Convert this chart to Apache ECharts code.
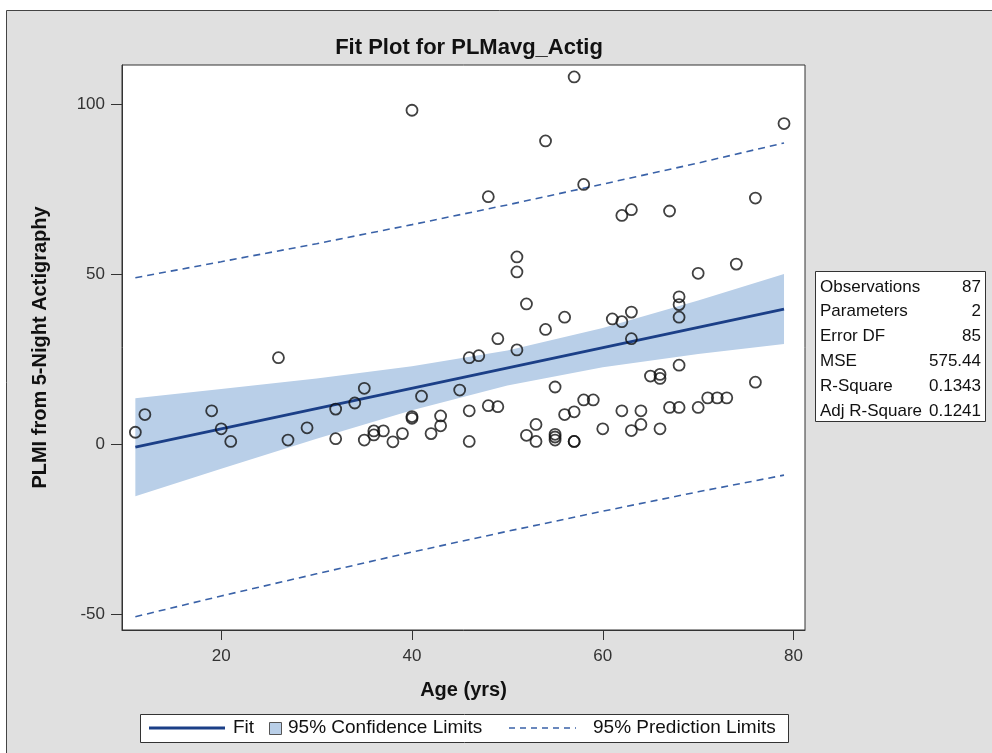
<!DOCTYPE html>
<html>
<head>
<meta charset="utf-8">
<script src="https://cdn.jsdelivr.net/npm/echarts@6/dist/echarts.min.js"></script>
<style>
  html, body { margin: 0; padding: 0; background: #fff; }
  #chart { width: 992px; height: 753px; }
</style>
</head>
<body>
<div id="chart"></div>
<script>
// observations: age (yrs) and PLMI
const ages = [11, 12, 19, 20, 21, 26, 27, 29, 32, 32, 34, 35, 35, 36, 36, 37, 38, 39, 40, 40,
  40, 41, 42, 43, 43, 45, 46, 46, 46, 47, 48, 48, 49, 49, 51, 51, 51, 52, 52, 53,
  53, 54, 54, 55, 55, 55, 55, 56, 56, 57, 57, 57, 58, 58, 59, 60, 61, 62, 62, 62,
  63, 63, 63, 63, 64, 64, 65, 66, 66, 66, 67, 67, 68, 68, 68, 68, 68, 70, 70, 71,
  72, 73, 74, 76, 76, 79, 57];
const plmi = [3.6, 8.8, 9.9, 4.6, 0.9, 25.5, 1.3, 4.9, 10.4, 1.7, 12.2, 16.5, 1.3, 4.0, 2.8, 4.0, 0.8, 3.2, 8.2, 7.7,
  98.2, 14.2, 3.2, 8.4, 5.5, 16.0, 25.5, 9.9, 0.9, 26.1, 72.8, 11.4, 11.1, 31.1, 55.1, 50.7, 27.8, 41.3, 2.7, 5.9,
  0.9, 33.8, 89.2, 16.9, 3.0, 2.2, 1.3, 37.4, 8.8, 108.0, 9.6, 0.9, 76.4, 13.1, 13.1, 4.6, 36.9, 36.1, 67.3, 9.9,
  69.0, 38.9, 31.1, 4.1, 9.9, 5.9, 20.1, 20.6, 19.4, 4.6, 10.9, 68.6, 43.4, 41.1, 37.4, 23.3, 10.9, 50.3, 10.9, 13.7,
  13.7, 13.7, 53.0, 72.4, 18.3, 94.3, 0.9];

// fit line and limits
const fitX = [11, 79];
const fitY = [-0.8, 39.8];
const bandX = [11, 20, 30, 40, 50, 60, 70, 79];
const confLower = [-15.2, -7.1, 1.7, 10.1, 17.3, 22.7, 26.6, 29.5];
const confUpper = [13.6, 16.3, 19.4, 23.0, 27.6, 34.2, 42.3, 50.1];
const predLower = [-50.6, -44.5, -38.0, -31.6, -25.5, -19.6, -13.9, -9.0];
const predUpper = [49.0, 53.7, 59.0, 64.6, 70.4, 76.5, 82.7, 88.6];

const xTicks = [20, 40, 60, 80];
const yTicks = [-50, 0, 50, 100];

const statLabels = ['Observations', 'Parameters', 'Error DF', 'MSE', 'R-Square', 'Adj R-Square'];
const statValues = ['87', '2', '85', '575.44', '0.1343', '0.1241'];

const FONT = '"Liberation Sans", Arial, sans-serif';
const fitColor = '#1b3f87';
const bandColor = '#b9cfe8';
const predColor = '#3a62a8';

const zip = (xs, ys) => xs.map((x, i) => [x, ys[i]]);

const chart = echarts.init(document.getElementById('chart'));

// stats table
const statGraphics = [{
  type: 'rect', shape: { x: 815.5, y: 271.5, width: 170, height: 150 },
  style: { fill: '#fff', stroke: '#333', lineWidth: 1 }
}];
statLabels.forEach((t, i) => {
  const y = 287 + i * 24.8;
  statGraphics.push({
    type: 'text', x: 820, y: y,
    style: { text: t, font: '17px ' + FONT, fill: '#111', textVerticalAlign: 'middle' }
  });
  statGraphics.push({
    type: 'text', x: 981, y: y,
    style: { text: statValues[i], font: '17px ' + FONT, fill: '#111', textAlign: 'right', textVerticalAlign: 'middle' }
  });
});

// legend, drawn by hand so each sample gets its own width
const legendGraphics = [
  {
    type: 'rect', shape: { x: 140.5, y: 714.5, width: 648, height: 28 },
    style: { fill: '#fff', stroke: '#333', lineWidth: 1 }
  },
  {
    type: 'line', shape: { x1: 149, y1: 728, x2: 225, y2: 728 },
    style: { stroke: fitColor, lineWidth: 3 }
  },
  {
    type: 'text', x: 233, y: 728,
    style: { text: 'Fit', font: '19px ' + FONT, fill: '#111', textVerticalAlign: 'middle' }
  },
  {
    type: 'rect', shape: { x: 269.5, y: 722.5, width: 12, height: 12 },
    style: { fill: bandColor, stroke: '#555', lineWidth: 1 }
  },
  {
    type: 'text', x: 288, y: 728,
    style: { text: '95% Confidence Limits', font: '19px ' + FONT, fill: '#111', textVerticalAlign: 'middle' }
  },
  {
    type: 'line', shape: { x1: 509, y1: 728, x2: 576, y2: 728 },
    style: { stroke: predColor, lineWidth: 1.6, lineDash: [6, 5] }
  },
  {
    type: 'text', x: 593, y: 728,
    style: { text: '95% Prediction Limits', font: '19px ' + FONT, fill: '#111', textVerticalAlign: 'middle' }
  }
];

const option = {
  backgroundColor: '#fff',
  animation: false,
  title: {
    text: 'Fit Plot for PLMavg_Actig',
    left: 464,
    top: 32,
    textAlign: 'center',
    textStyle: { fontFamily: FONT, fontSize: 22, fontWeight: 'bold', color: '#111' }
  },
  graphic: [
    {
      type: 'rect', z: -100, shape: { x: 6.5, y: 10.5, width: 1000, height: 800 },
      style: { fill: '#e0e0e0', stroke: '#444', lineWidth: 1 }
    }
  ].concat(statGraphics, legendGraphics),
  grid: {
    left: 122, top: 65, width: 683, height: 565,
    show: true, backgroundColor: '#fff', borderColor: '#333', borderWidth: 1
  },
  xAxis: {
    type: 'value', min: 9.6, max: 81.2,
    name: 'Age (yrs)', nameLocation: 'middle', nameGap: 50,
    nameTextStyle: { fontFamily: FONT, fontSize: 20, fontWeight: 'bold', color: '#111' },
    axisLine: { show: true, onZero: false, lineStyle: { color: '#333' } },
    axisTick: { show: true, length: 10, customValues: xTicks, lineStyle: { color: '#333' } },
    axisLabel: { customValues: xTicks, margin: 18, fontFamily: FONT, fontSize: 17, color: '#333' },
    splitLine: { show: false }
  },
  yAxis: {
    type: 'value', min: -54.5, max: 111.5,
    name: 'PLMI from 5-Night Actigraphy', nameLocation: 'middle', nameGap: 72,
    nameTextStyle: { fontFamily: FONT, fontSize: 20, fontWeight: 'bold', color: '#111' },
    axisLine: { show: true, onZero: false, lineStyle: { color: '#333' } },
    axisTick: { show: true, length: 11, customValues: yTicks, lineStyle: { color: '#333' } },
    axisLabel: { customValues: yTicks, margin: 17, fontFamily: FONT, fontSize: 17, color: '#333' },
    splitLine: { show: false }
  },
  series: [
    {
      // confidence band as one polygon through the axis scales
      name: '95% Confidence Limits', type: 'custom', silent: true, z: 1,
      data: bandX.map((x, i) => [x, confLower[i], confUpper[i]]),
      encode: { x: 0, y: [1, 2] },
      renderItem: (params, api) => {
        if (params.dataIndex !== 0) return null;
        const pts = [];
        bandX.forEach((x, i) => pts.push(api.coord([x, confUpper[i]])));
        for (let i = bandX.length - 1; i >= 0; i--) pts.push(api.coord([bandX[i], confLower[i]]));
        return { type: 'polygon', shape: { points: pts }, style: { fill: bandColor } };
      }
    },
    {
      name: '95% Prediction Limits', type: 'line', data: zip(bandX, predUpper),
      symbol: 'none', lineStyle: { color: predColor, width: 1.6, type: [7, 5] }, z: 3
    },
    {
      name: '95% Prediction Limits', type: 'line', data: zip(bandX, predLower),
      symbol: 'none', lineStyle: { color: predColor, width: 1.6, type: [7, 5] }, z: 3
    },
    {
      name: 'Fit', type: 'line', data: zip(fitX, fitY),
      symbol: 'none', lineStyle: { color: fitColor, width: 2.8 }, z: 4
    },
    {
      name: 'PLMI', type: 'scatter', data: zip(ages, plmi),
      symbol: 'circle', symbolSize: 11,
      itemStyle: { color: 'rgba(0,0,0,0)', borderColor: '#111', borderWidth: 1.8 },
      z: 5
    }
  ]
};

chart.setOption(option);
</script>
</body>
</html>
